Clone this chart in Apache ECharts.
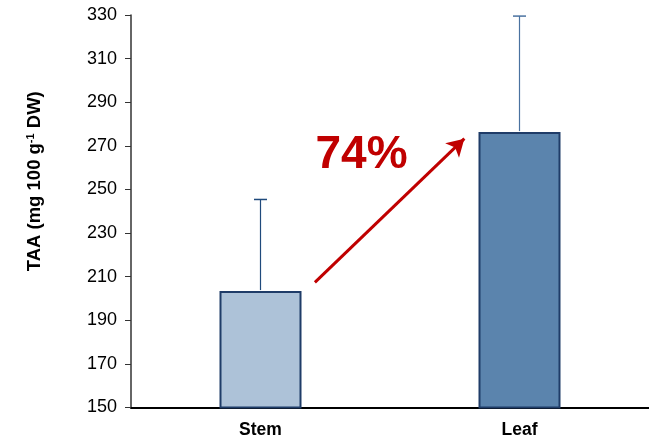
<!DOCTYPE html>
<html><head><meta charset="utf-8">
<script src="https://cdn.jsdelivr.net/npm/echarts@6/dist/echarts.min.js"></script>
<style>html,body{margin:0;padding:0;background:#fff}#c{width:649px;height:443px}</style>
</head><body><div id="c"></div>
<script>
var categories = ['Stem', 'Leaf'];
var means = [203.4, 276.3];
var errUpper = [245.4, 329.5];
var barColors = ['#adc2d8', '#5b84ad'];
var errColors = ['#1f4a7c', '#4a72a0'];
var yTicks = [150, 170, 190, 210, 230, 250, 270, 290, 310, 330];
var arrowFrom = [0.21, 207.4];
var arrowTo = [0.787, 273.3];
var labelText = '74%';
var labelPos = [0.39, 265.5];

var chart = echarts.init(document.getElementById('c'));
var font = 'Liberation Sans, Arial, sans-serif';
chart.setOption({
  animation: false,
  grid: {left: 131, top: 15, width: 522, height: 392.5, containLabel: false},
  xAxis: [{
    type: 'category', data: categories,
    axisLine: {lineStyle: {color: '#000', width: 2}},
    axisTick: {show: false},
    axisLabel: {fontFamily: font, fontWeight: 'bold', fontSize: 17.5, color: '#000', margin: 14}
  }, {
    type: 'value', min: -0.5, max: 1.5, show: false
  }],
  yAxis: {
    type: 'value', min: yTicks[0], max: yTicks[yTicks.length - 1], interval: 20,
    name: '{a|TAA (mg 100 g}{s|-1}{a| DW)}',
    nameLocation: 'middle', nameGap: 86, nameRotate: 90,
    nameTextStyle: {padding: [0, 0, 0, 60], rich: {
      a: {fontFamily: font, fontWeight: 'bold', fontSize: 18.5, color: '#000'},
      s: {fontFamily: font, fontWeight: 'bold', fontSize: 11, color: '#000', verticalAlign: 'top', padding: [0, 0, 9, 0]}
    }},
    axisLine: {show: true, onZero: false, lineStyle: {color: '#333', width: 1.5}},
    axisTick: {show: true, length: 6, lineStyle: {color: '#333'}},
    splitLine: {show: false},
    axisLabel: {fontFamily: font, fontSize: 18, color: '#000', margin: 14}
  },
  series: [{
    type: 'bar', barWidth: 82,
    data: means.map(function (v, i) {
      return {value: v, itemStyle: {color: barColors[i], borderColor: '#1f3c68', borderWidth: 2}};
    }),
    z: 2
  }, {
    type: 'custom',
    data: categories.map(function (c, i) { return [i, means[i], errUpper[i]]; }),
    renderItem: function (params, api) {
      var i = api.value(0);
      var p0 = api.coord([i, api.value(1)]);
      var p1 = api.coord([i, api.value(2)]);
      var col = errColors[params.dataIndex];
      return {type: 'group', children: [
        {type: 'line', shape: {x1: p0[0], y1: p0[1] - 1, x2: p1[0], y2: p1[1]}, style: {stroke: col, lineWidth: 1.2}},
        {type: 'line', shape: {x1: p1[0] - 6.5, y1: p1[1], x2: p1[0] + 6.5, y2: p1[1]}, style: {stroke: col, lineWidth: 1.5}}
      ]};
    },
    z: 3
  }, {
    type: 'scatter', xAxisIndex: 1, symbolSize: 0,
    itemStyle: {opacity: 1},
    data: [labelPos],
    label: {show: true, position: 'inside', formatter: labelText,
      fontFamily: font, fontWeight: 'bold', fontSize: 46, color: '#c00000', opacity: 1},
    markLine: {
      silent: true, symbol: ['none', 'arrow'], symbolSize: [15, 17],
      lineStyle: {color: '#c00000', width: 3, type: 'solid', opacity: 1},
      label: {show: false},
      data: [[{coord: arrowFrom}, {coord: arrowTo}]]
    },
    z: 4
  }]
});
</script></body></html>
